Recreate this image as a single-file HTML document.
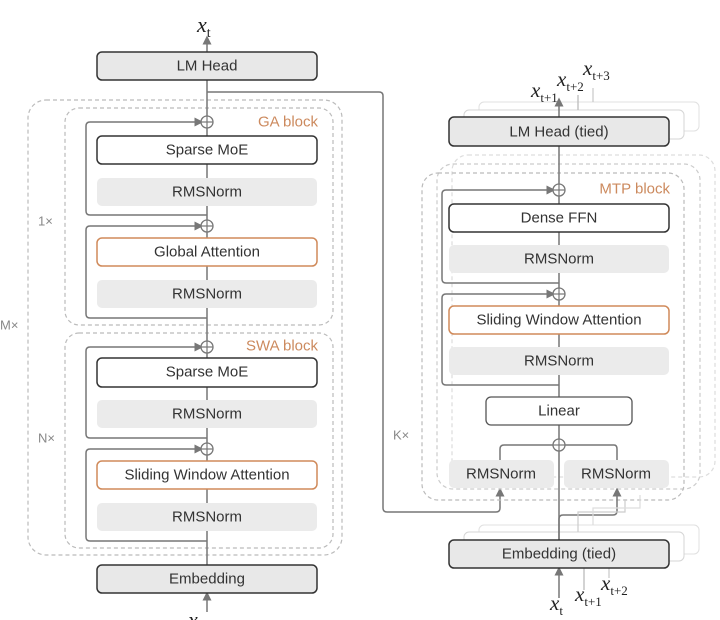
<!DOCTYPE html>
<html><head><style>
html,body{margin:0;padding:0;background:#fff;}
svg{display:block;font-family:"Liberation Sans",sans-serif;}
.t{font-size:15px;fill:#333;text-anchor:middle;dominant-baseline:central;}
.m{font-family:"Liberation Serif",serif;font-style:italic;fill:#222;}
.ln{stroke:#777;stroke-width:1.5;fill:none;}
.dash{stroke:#bbb;stroke-width:1.2;stroke-dasharray:4 3;fill:none;}
.norm{fill:#ebebeb;stroke:none;}
.wb{fill:#fff;stroke:#333;stroke-width:1.5;}
.ob{fill:#fff;stroke:#d08a5a;stroke-width:1.5;}
.gb{fill:#e8e8e8;stroke:#333;stroke-width:1.5;}
.or{font-size:15px;fill:#cc8a5e;text-anchor:end;dominant-baseline:central;}
.lab{font-size:13px;fill:#888;dominant-baseline:central;}
</style></head><body>
<svg width="720" height="620" viewBox="0 0 720 620">
<defs><marker id="a" markerWidth="6" markerHeight="6" refX="3" refY="3" orient="auto"><path d="M0,0 L6,3 L0,6 z" fill="#777"/></marker></defs>

<!-- LEFT -->
<rect class="dash" x="28" y="100" width="314" height="455" rx="18"/>
<rect class="dash" x="65" y="108" width="268" height="217" rx="14"/>
<rect class="dash" x="65" y="333" width="268" height="215" rx="14"/>
<text class="lab" x="0" y="325">M×</text>
<text class="lab" x="38" y="221">1×</text>
<text class="lab" x="38" y="438">N×</text>
<text class="or" x="318" y="122">GA block</text>
<text class="or" x="318" y="346">SWA block</text>

<line class="ln" x1="207" y1="565" x2="207" y2="80"/>
<line class="ln" x1="207" y1="52" x2="207" y2="40" marker-end="url(#a)"/>
<line class="ln" x1="207" y1="612" x2="207" y2="596" marker-end="url(#a)"/>
<path class="ln" d="M207,215 H90 Q86,215 86,211 V126 Q86,122 90,122 H199" marker-end="url(#a)"/>
<path class="ln" d="M207,318 H90 Q86,318 86,314 V230 Q86,226 90,226 H199" marker-end="url(#a)"/>
<path class="ln" d="M207,438 H90 Q86,438 86,434 V351 Q86,347 90,347 H199" marker-end="url(#a)"/>
<path class="ln" d="M207,541 H90 Q86,541 86,537 V453 Q86,449 90,449 H199" marker-end="url(#a)"/>
<g fill="#fff" stroke="#777" stroke-width="1.3">
<circle cx="207" cy="122" r="6"/><circle cx="207" cy="226" r="6"/><circle cx="207" cy="347" r="6"/><circle cx="207" cy="449" r="6"/>
</g>
<g stroke="#777" stroke-width="1.2">
<line x1="201" y1="122" x2="213" y2="122"/><line x1="201" y1="226" x2="213" y2="226"/><line x1="201" y1="347" x2="213" y2="347"/><line x1="201" y1="449" x2="213" y2="449"/>
<line x1="207" y1="116" x2="207" y2="128"/><line x1="207" y1="220" x2="207" y2="232"/><line x1="207" y1="341" x2="207" y2="353"/><line x1="207" y1="443" x2="207" y2="455"/>
</g>
<path class="ln" d="M207,92 H379 Q383,92 383,96 V508 Q383,512 387,512 H496 Q500,512 500,508 V492" marker-end="url(#a)"/>

<rect class="gb" x="97" y="52" width="220" height="28" rx="5"/><text class="t" x="207" y="66">LM Head</text>
<rect class="wb" x="97" y="136" width="220" height="28" rx="5"/><text class="t" x="207" y="150">Sparse MoE</text>
<rect class="norm" x="97" y="178" width="220" height="28" rx="5"/><text class="t" x="207" y="192">RMSNorm</text>
<rect class="ob" x="97" y="238" width="220" height="28" rx="5"/><text class="t" x="207" y="252">Global Attention</text>
<rect class="norm" x="97" y="280" width="220" height="28" rx="5"/><text class="t" x="207" y="294">RMSNorm</text>
<rect class="wb" x="97" y="358" width="220" height="29" rx="5"/><text class="t" x="207" y="372">Sparse MoE</text>
<rect class="norm" x="97" y="400" width="220" height="28" rx="5"/><text class="t" x="207" y="414">RMSNorm</text>
<rect class="ob" x="97" y="461" width="220" height="28" rx="5"/><text class="t" x="207" y="475">Sliding Window Attention</text>
<rect class="norm" x="97" y="503" width="220" height="28" rx="5"/><text class="t" x="207" y="517">RMSNorm</text>
<rect class="gb" x="97" y="565" width="220" height="28" rx="5"/><text class="t" x="207" y="579">Embedding</text>
<text class="m" x="197" y="32" font-size="22">x<tspan font-size="14" font-style="normal" dy="5">t</tspan></text>
<text class="m" x="188" y="627" font-size="22">x<tspan font-size="14" font-style="normal" dy="5">t−1</tspan></text>

<!-- RIGHT -->
<text class="lab" x="393" y="435">K×</text>
<rect x="479" y="102" width="220" height="29" rx="5" fill="#fff" stroke="#e0e0e0"/>
<rect x="464" y="110" width="220" height="29" rx="5" fill="#fff" stroke="#d5d5d5"/>
<rect x="479" y="525" width="220" height="29" rx="5" fill="#fff" stroke="#e0e0e0"/>
<rect x="464" y="532" width="220" height="29" rx="5" fill="#fff" stroke="#d5d5d5"/>
<rect class="dash" x="452" y="155" width="263" height="322" rx="16" style="stroke:#ddd"/>
<rect class="dash" x="437" y="164" width="263" height="325" rx="16" style="stroke:#ccc"/>
<rect x="422" y="173" width="262" height="327" rx="16" fill="#fff" class="dash"/>
<text class="or" x="670" y="189">MTP block</text>

<line class="ln" x1="559" y1="540" x2="559" y2="146"/>
<line class="ln" x1="559" y1="117" x2="559" y2="102" marker-end="url(#a)"/>
<line x1="578" y1="110" x2="578" y2="95" stroke="#bbb" stroke-width="1.3"/>
<line x1="593" y1="102" x2="593" y2="88" stroke="#ccc" stroke-width="1.3"/>
<path class="ln" d="M559,283 H446 Q442,283 442,279 V194 Q442,190 446,190 H551" marker-end="url(#a)"/>
<path class="ln" d="M559,385 H446 Q442,385 442,381 V298 Q442,294 446,294 H551" marker-end="url(#a)"/>
<path class="ln" d="M500,460 V449 Q500,445 504,445 H614 Q617,445 617,449 V460"/>
<path class="ln" d="M559,540 V519 Q559,515 563,515 H613 Q617,515 617,511 V492" marker-end="url(#a)"/>
<path d="M578,532 V512 H625 V500" fill="none" stroke="#ccc" stroke-width="1.2"/>
<path d="M593,525 V508 H640 V495" fill="none" stroke="#ddd" stroke-width="1.2"/>
<line class="ln" x1="559" y1="598" x2="559" y2="571" marker-end="url(#a)"/>
<line x1="584" y1="590" x2="584" y2="561" stroke="#bbb" stroke-width="1.3"/>
<line x1="609" y1="578" x2="609" y2="554" stroke="#ccc" stroke-width="1.3"/>
<g fill="#fff" stroke="#777" stroke-width="1.3">
<circle cx="559" cy="190" r="6"/><circle cx="559" cy="294" r="6"/><circle cx="559" cy="445" r="6"/>
</g>
<g stroke="#777" stroke-width="1.2">
<line x1="553" y1="190" x2="565" y2="190"/><line x1="553" y1="294" x2="565" y2="294"/><line x1="553" y1="445" x2="565" y2="445"/>
<line x1="559" y1="184" x2="559" y2="196"/><line x1="559" y1="288" x2="559" y2="300"/><line x1="559" y1="439" x2="559" y2="451"/>
</g>

<rect class="gb" x="449" y="117" width="220" height="29" rx="5"/><text class="t" x="559" y="132">LM Head (tied)</text>
<rect class="wb" x="449" y="204" width="220" height="28" rx="5"/><text class="t" x="559" y="218">Dense FFN</text>
<rect class="norm" x="449" y="245" width="220" height="28" rx="5"/><text class="t" x="559" y="259">RMSNorm</text>
<rect class="ob" x="449" y="306" width="220" height="28" rx="5"/><text class="t" x="559" y="320">Sliding Window Attention</text>
<rect class="norm" x="449" y="347" width="220" height="28" rx="5"/><text class="t" x="559" y="361">RMSNorm</text>
<rect x="486" y="397" width="146" height="28" rx="5" fill="#fff" stroke="#555" stroke-width="1.3"/><text class="t" x="559" y="411">Linear</text>
<rect class="norm" x="449" y="460" width="105" height="28" rx="5"/><text class="t" x="501" y="474">RMSNorm</text>
<rect class="norm" x="564" y="460" width="105" height="28" rx="5"/><text class="t" x="616" y="474">RMSNorm</text>
<rect class="gb" x="449" y="540" width="220" height="28" rx="5"/><text class="t" x="559" y="554">Embedding (tied)</text>

<text class="m" x="531" y="97" font-size="21">x<tspan font-size="13" font-style="normal" dy="5">t+1</tspan></text>
<text class="m" x="557" y="86" font-size="21">x<tspan font-size="13" font-style="normal" dy="5">t+2</tspan></text>
<text class="m" x="583" y="75" font-size="21">x<tspan font-size="13" font-style="normal" dy="5">t+3</tspan></text>
<text class="m" x="550" y="610" font-size="21">x<tspan font-size="13" font-style="normal" dy="5">t</tspan></text>
<text class="m" x="575" y="601" font-size="21">x<tspan font-size="13" font-style="normal" dy="5">t+1</tspan></text>
<text class="m" x="601" y="590" font-size="21">x<tspan font-size="13" font-style="normal" dy="5">t+2</tspan></text>
</svg>
</body></html>
